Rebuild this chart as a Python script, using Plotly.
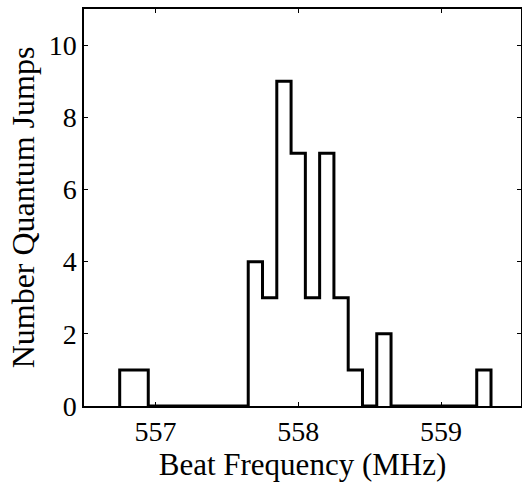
import numpy as np
import plotly.graph_objects as go

# histogram bins (MHz), width 0.1, only non-empty bins listed
bin_centers = [556.8, 556.9, 557.7, 557.8, 557.9, 558.0, 558.1, 558.2, 558.3, 558.4, 558.6, 559.3]
counts = [1, 1, 4, 3, 9, 7, 3, 7, 3, 1, 2, 1]
bin_width = 0.1

x_ticks = [557, 558, 559]
y_ticks = [0, 2, 4, 6, 8, 10]

# fill in the empty bins so the outline runs along zero between groups
first, last = min(bin_centers), max(bin_centers)
n_bins = int(round((last - first) / bin_width)) + 1
centers = first + bin_width * np.arange(n_bins)
full = np.zeros(n_bins)
for c, n in zip(bin_centers, counts):
    full[int(round((c - first) / bin_width))] = n
edges = centers - bin_width / 2
xs = [edges[0]] + list(edges) + [edges[-1] + bin_width]
ys = [0] + list(full) + [0]

fig = go.Figure()
fig.add_trace(go.Scatter(
    x=xs, y=ys, mode='lines', line_shape='hv',
    line=dict(color='black', width=3), showlegend=False
))

font = dict(family='Liberation Serif', size=28, color='black')
axis = dict(showline=True, linecolor='black', linewidth=1.5, mirror='allticks',
            ticks='inside', ticklen=4, tickwidth=1, tickcolor='black',
            showgrid=False, zeroline=False, tickfont=font, automargin=False)

fig.update_layout(
    width=522, height=483,
    margin=dict(l=84, r=1, t=9, b=77),
    paper_bgcolor='white', plot_bgcolor='white',
    xaxis=dict(axis, range=[556.5, 559.56], tickvals=x_ticks,
               title=dict(text='Beat Frequency (MHz)', font=dict(font, size=31), standoff=0)),
    yaxis=dict(axis, range=[0, 11], tickvals=y_ticks,
               title=dict(text='Number Quantum Jumps', font=dict(font, size=32), standoff=4)),
)

fig.write_html("out.html", config={'displayModeBar': False},
               post_script="document.body.style.margin='0';")
